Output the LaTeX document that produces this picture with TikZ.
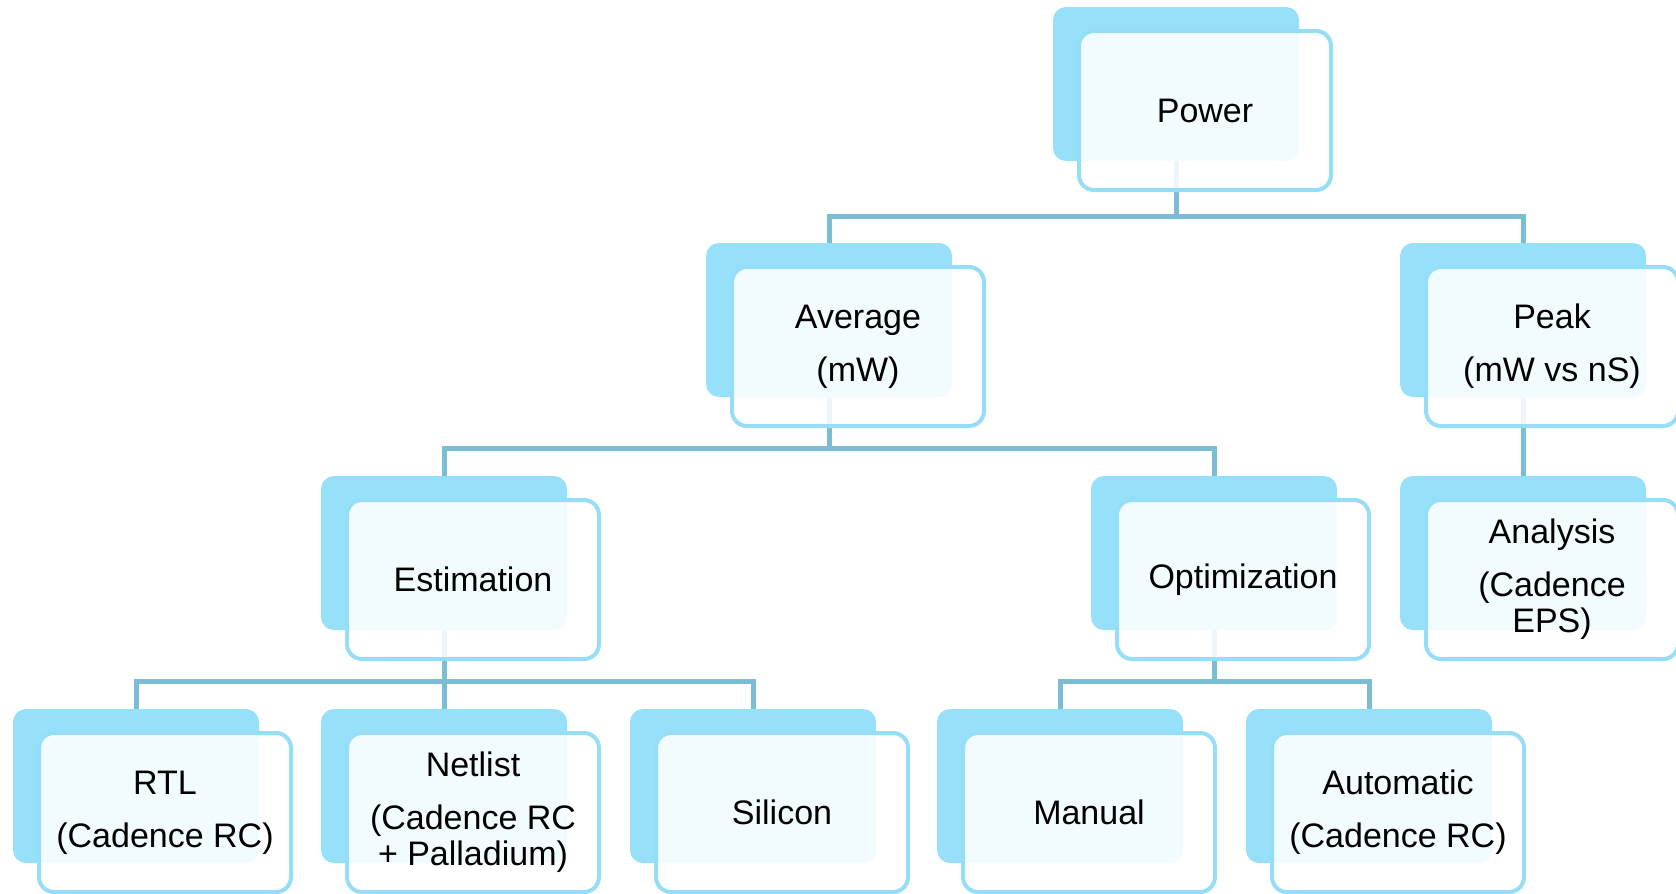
\documentclass[tikz,border=0pt]{standalone}
\usepackage{fontspec}
\setmainfont{Liberation Sans}
\usetikzlibrary{positioning}

\definecolor{tileblue}{RGB}{151,224,250}
\definecolor{tileline}{RGB}{150,222,248}
\definecolor{linkblue}{RGB}{123,189,211}

\begin{document}
\begin{tikzpicture}[x=0.5pt, y=-0.5pt,
    tileback/.style={rectangle, rounded corners=6.5pt, fill=tileblue,
      anchor=north west, minimum width=123pt, minimum height=77pt,
      inner sep=0pt, outer sep=0pt},
    tilefront/.style={rectangle, rounded corners=7.5pt, draw=tileline,
      line width=2pt, fill=white, fill opacity=0.88, text opacity=1,
      minimum width=126pt, minimum height=79.5pt, inner sep=0pt,
      outer sep=0pt, align=center, font=\fontsize{17}{18}\selectfont},
    link/.style={draw=linkblue, line width=2.5pt}]
  \useasboundingbox (0,0) rectangle (1676,894);

  % Back tiles
  \node[tileback] (pwr) at (1053,7) {};
  \node[tileback] (avg) at (706,243) {};
  \node[tileback] (peak) at (1400,243) {};
  \node[tileback] (est) at (321,476) {};
  \node[tileback] (opt) at (1091,476) {};
  \node[tileback] (ana) at (1400,476) {};
  \node[tileback] (rtl) at (13,709) {};
  \node[tileback] (net) at (321,709) {};
  \node[tileback] (sil) at (630,709) {};
  \node[tileback] (man) at (937,709) {};
  \node[tileback] (aut) at (1246,709) {};

  % Connect the tiles
  \coordinate (bus1) at (0,216);
  \coordinate (bus2) at (0,448);
  \coordinate (bus3) at (0,681);
  \draw[link] (pwr.south) -- (pwr.south |- bus1) -| (avg.north);
  \draw[link] (pwr.south |- bus1) -| (peak.north);
  \draw[link] (avg.south) -- (avg.south |- bus2) -| (est.north);
  \draw[link] (avg.south |- bus2) -| (opt.north);
  \draw[link] (peak.south) -- (ana.north);
  \draw[link] (est.south) -- (est.south |- bus3) -| (rtl.north);
  \draw[link] (est.south |- bus3) -- (net.north);
  \draw[link] (est.south |- bus3) -| (sil.north);
  \draw[link] (opt.south) -- (opt.south |- bus3) -| (man.north);
  \draw[link] (opt.south |- bus3) -| (aut.north);

  % Front tiles
  \node[tilefront, below right=12pt and 13pt of pwr.north west] (pwr-f) {Power};
  \node[tilefront, below right=12pt and 13pt of avg.north west] (avg-f) {Average\\[8.5pt](mW)};
  \node[tilefront, below right=12pt and 13pt of peak.north west] (peak-f) {Peak\\[8.5pt](mW vs nS)};
  \node[tilefront, below right=12pt and 13pt of est.north west] (est-f) {Estimation};
  \node[tilefront, below right=12pt and 13pt of opt.north west] (opt-f) {Optimization};
  \node[tilefront, below right=12pt and 13pt of ana.north west] (ana-f) {Analysis\\[8.5pt](Cadence\\EPS)};
  \node[tilefront, below right=12pt and 13pt of rtl.north west] (rtl-f) {RTL\\[8.5pt](Cadence RC)};
  \node[tilefront, below right=12pt and 13pt of net.north west] (net-f) {Netlist\\[8.5pt](Cadence RC\\+ Palladium)};
  \node[tilefront, below right=12pt and 13pt of sil.north west] (sil-f) {Silicon};
  \node[tilefront, below right=12pt and 13pt of man.north west] (man-f) {Manual};
  \node[tilefront, below right=12pt and 13pt of aut.north west] (aut-f) {Automatic\\[8.5pt](Cadence RC)};
\end{tikzpicture}
\end{document}
